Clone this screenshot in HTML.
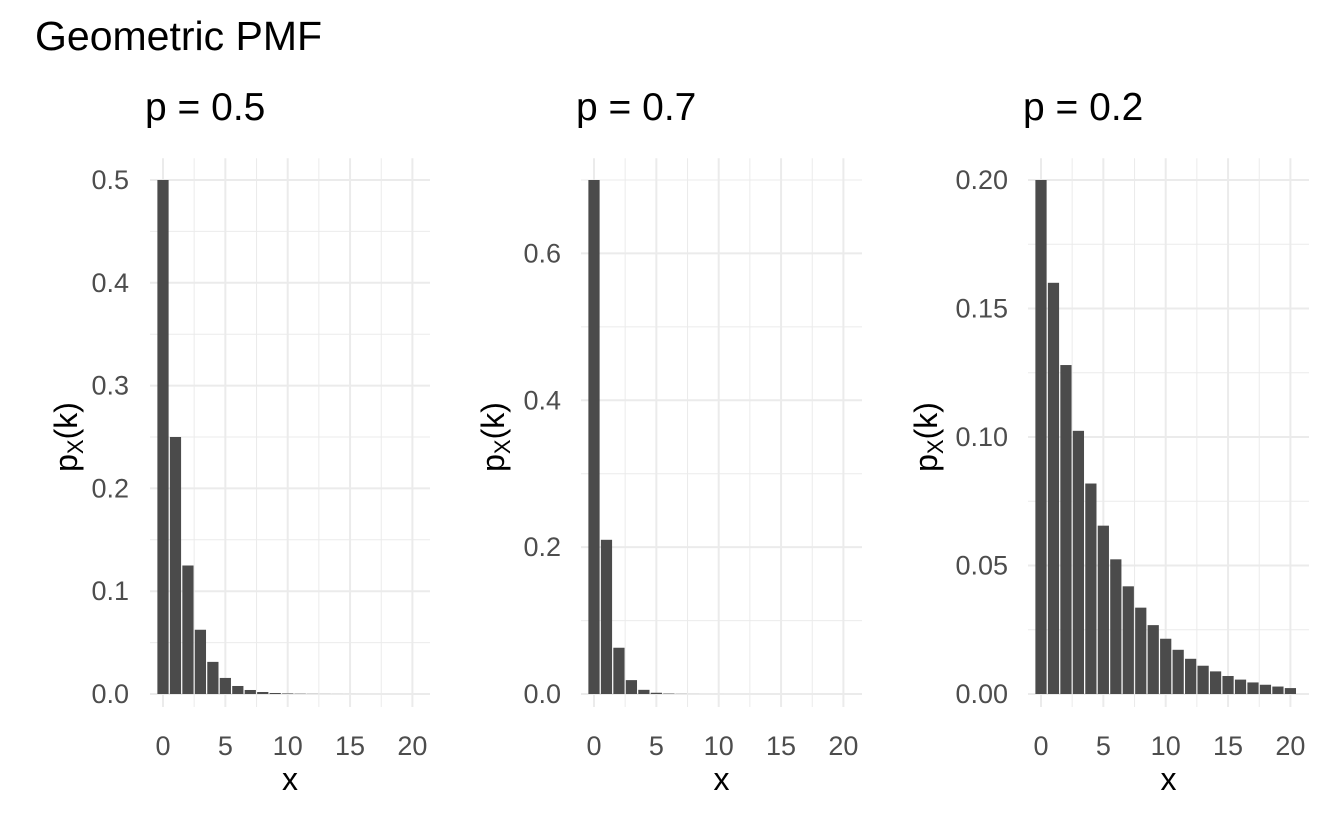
<!DOCTYPE html>
<html><head><meta charset="utf-8"><style>
body{margin:0;background:#fff;}
svg{display:block;font-family:"Liberation Sans",Arial,sans-serif;}
</style></head><body>
<svg id="c" width="1344" height="830">
<text x="35" y="50" font-size="41" fill="#000">Geometric PMF</text>
</svg>
<script>
const categories=[0,1,2,3,4,5,6,7,8,9,10,11,12,13,14,15,16,17,18,19,20];
const seriesP05=[0.5,0.25,0.125,0.0625,0.03125,0.015625,0.0078,0.0039,0.00195,0.00098,0.00049,0.00024,0.00012,0.00006,0.00003,0.000015,0.0000076,0.0000038,0.0000019,0.00000095,0.00000048];
const seriesP07=[0.7,0.21,0.063,0.0189,0.00567,0.0017,0.00051,0.000153,0.000046,0.0000138,0.0000041,0.0000012,0.00000037,0.00000011,0.00000003,0.00000001,0,0,0,0,0];
const seriesP02=[0.2,0.16,0.128,0.1024,0.0819,0.0655,0.0524,0.0419,0.0336,0.0268,0.0215,0.0172,0.0137,0.011,0.0088,0.007,0.0056,0.0045,0.0036,0.0029,0.0023];
const xTicks=[0,5,10,15,20];
const yTicks1=["0.0","0.1","0.2","0.3","0.4","0.5"];
const yTicks2=["0.0","0.2","0.4","0.6"];
const yTicks3=["0.00","0.05","0.10","0.15","0.20"];
const titles=["p = 0.5","p = 0.7","p = 0.2"];
const NS="http://www.w3.org/2000/svg";
const svg=document.getElementById('c');
function mk(tag,attrs,parent){const e=document.createElementNS(NS,tag);for(const k in attrs)e.setAttribute(k,attrs[k]);(parent||svg).appendChild(e);return e;}
const panels=[
 {x0:163,left:150,right:430,data:seriesP05,ticks:yTicks1,step:0.1,ymax:0.5,ytl:129,yt:65},
 {x0:594,left:581,right:862,data:seriesP07,ticks:yTicks2,step:0.2,ymax:0.7,ytl:561,yt:492},
 {x0:1041,left:1028,right:1309,data:seriesP02,ticks:yTicks3,step:0.05,ymax:0.2,ytl:1008,yt:925}];
const yBase=694,yTop=180,xUnit=12.47;
panels.forEach((p,i)=>{
 const g=mk('g',{});
 
 
 const ys=v=>yBase-(v/p.ymax)*(yBase-yTop);
 const xs=v=>p.x0+v*xUnit;
 const top=ys(p.ymax*1.05)+4, bot=yBase+13;
 for(let k=0;k<p.ticks.length;k++){
  const v=k*p.step;
  mk('line',{x1:p.left,x2:p.right,y1:ys(v),y2:ys(v),stroke:'#ebebeb','stroke-width':2},g);
  if(ys(v+p.step/2)>=top) mk('line',{x1:p.left,x2:p.right,y1:ys(v+p.step/2),y2:ys(v+p.step/2),stroke:'#ebebeb','stroke-width':1},g);
  const t=mk('text',{x:p.ytl,y:ys(v)+9,'font-size':27,fill:'#4d4d4d','text-anchor':'end'},g);t.textContent=p.ticks[k];
  
 }
 xTicks.forEach((v,j)=>{
  mk('line',{x1:xs(v),x2:xs(v),y1:top,y2:bot,stroke:'#ebebeb','stroke-width':2},g);
  if(j<xTicks.length-1) mk('line',{x1:xs(v+2.5),x2:xs(v+2.5),y1:top,y2:bot,stroke:'#ebebeb','stroke-width':1},g);
  const t=mk('text',{x:xs(v),y:755,'font-size':27,fill:'#4d4d4d','text-anchor':'middle'},g);t.textContent=v;
  
 });
 categories.forEach((c,j)=>{
  const v=p.data[j];const y=ys(v);
  const r=mk('rect',{x:xs(c)-0.45*xUnit,y:y,width:0.9*xUnit,height:Math.max(0,yBase-y),fill:'#4b4b4b'},g);
  
  
 });
 const st=mk('text',{x:p.left-5,y:120,'font-size':39,fill:'#000'},g);st.textContent=titles[i];
 
 const xl=mk('text',{x:(p.left+p.right)/2,y:790,'font-size':32,fill:'#000','text-anchor':'middle'},g);xl.textContent='x';
 
 const yl=mk('text',{x:0,y:0,'font-size':32,fill:'#000','text-anchor':'middle',transform:`translate(${p.yt+12},437) rotate(-90)`},g);
 yl.innerHTML='p<tspan font-size="22" dy="6">X</tspan><tspan dy="-6">(k)</tspan>';
 
});
</script>
</body></html>
